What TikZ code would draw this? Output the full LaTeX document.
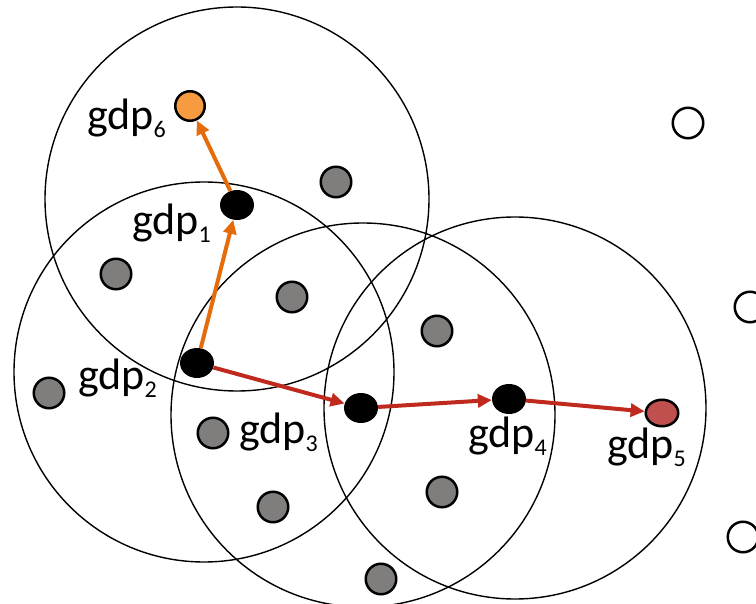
\documentclass[tikz,border=0pt]{standalone}
\usepackage{fontspec}
\setmainfont{Carlito}
\usepackage{tikz}
\usetikzlibrary{shapes.geometric, arrows.meta, positioning}

\definecolor{peergray}{RGB}{128,125,125}
\definecolor{srcorange}{RGB}{247,155,64}
\definecolor{pathorange}{RGB}{228,108,10}
\definecolor{pathred}{RGB}{192,41,29}
\definecolor{dstred}{RGB}{192,80,77}

\newcommand{\gdpname}[1]{gdp\raisebox{-8pt}{\fontsize{24}{24}\selectfont #1}}

\tikzset{
  zone/.style={draw, line width=1.4pt},
  peer/.style={circle, draw, line width=2.5pt, minimum size=30.5pt, inner sep=0pt, fill=peergray},
  idle/.style={peer, fill=white},
  relay/.style={ellipse, fill=black, minimum width=34pt, minimum height=30pt, inner sep=0pt},
  tag/.style={anchor=base west, inner sep=0pt, font=\fontsize{44}{44}\selectfont},
  hop/.style={line width=4pt, -{Triangle[length=14pt,width=13pt]}}
}

\begin{document}
\begin{tikzpicture}[x=1pt,y=-1pt]

        \useasboundingbox (0,0) rectangle (756,604);

        % Radio ranges
        \draw[zone] (237,199) circle[radius=192pt];
        \draw[zone] (204,372) circle[radius=190pt];
        \draw[zone] (363,415) circle[radius=192pt];
        \draw[zone] (515,408) circle[radius=191pt];

        % Other nodes
        \node[peer] (p1) at (336,182) {};
        \node[peer] (p2) at (116,274) {};
        \node[peer] (p3) at (292,297) {};
        \node[peer] (p4) at (437,331) {};
        \node[peer] (p5) at (49,393) {};
        \node[peer] (p6) at (213,433) {};
        \node[peer] (p7) at (273,507) {};
        \node[peer] (p8) at (442,492) {};
        \node[peer] (p9) at (381,579) {};

        % Nodes out of range
        \node[idle] (q1) at (688,123) {};
        \node[idle] (q2) at (750,307) {};
        \node[idle] (q3) at (743,537) {};

        % Forwarders and end points
        \node[relay] (gdp1) at (237,205) {};
        \node[relay] (gdp2) at (197,363) {};
        \node[relay] (gdp3) at (361,408) {};
        \node[relay] (gdp4) at (509,399) {};
        \node[peer, fill=srcorange, minimum size=29.5pt] (gdp6) at (190,106) {};
        \node[ellipse, draw, line width=2.5pt, fill=dstred, minimum width=32.5pt, minimum height=26.5pt, inner sep=0pt] (gdp5) at (662,413) {};

        % Labels
        \node[tag] (t1) at (132,235) {\gdpname{1}};
        \node[tag] (t2) at (78,390) {\gdpname{2}};
        \node[tag] (t3) at (239,443) {\gdpname{3}};
        \node[tag] (t4) at (468,447) {\gdpname{4}};
        \node[tag] (t5) at (607,458) {\gdpname{5}};
        \node[tag] (t6) at (87,130) {\gdpname{6}};

        % Routes
        \draw[hop, pathorange] (gdp2) -- (gdp1);
        \draw[hop, pathorange] (gdp1) -- (gdp6);
        \draw[hop, pathred] (gdp2) -- (gdp3);
        \draw[hop, pathred] (gdp3) -- (gdp4);
        \draw[hop, pathred] (gdp4) -- (gdp5);

\end{tikzpicture}
\end{document}
